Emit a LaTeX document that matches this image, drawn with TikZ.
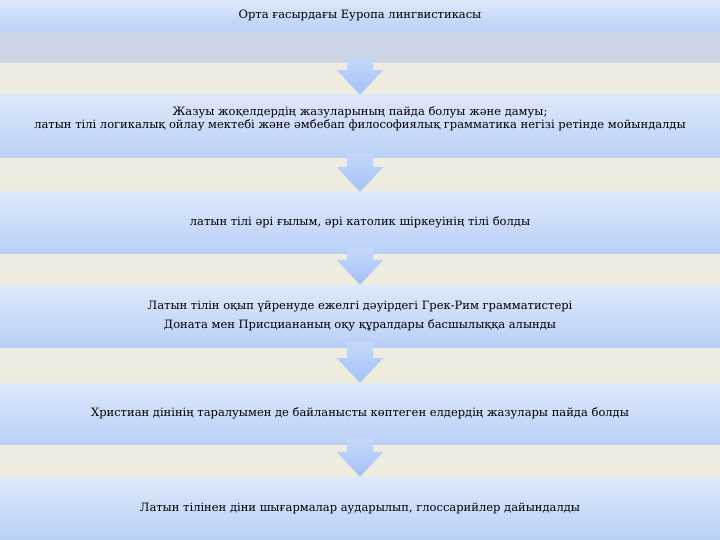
\documentclass[tikz,border=0pt]{standalone}
\usepackage{fontspec}
\setmainfont{DejaVu Serif}
\usetikzlibrary{calc}
\definecolor{paper}{HTML}{EEEBDF}
\definecolor{boxtop}{HTML}{DEE8FB}
\definecolor{boxbottom}{HTML}{B9D0F6}
\definecolor{bandgray}{HTML}{CDD6E7}
\definecolor{arrowtop}{HTML}{C4D8FA}
\definecolor{arrowbottom}{HTML}{A3C2F6}
\tikzset{%
    stagebox/.style={minimum width=720pt, inner sep=0pt, align=center,
      top color=boxtop, bottom color=boxbottom,
      font=\fontsize{11.5}{13}\selectfont},
    stagearrow/.style={top color=arrowtop, bottom color=arrowbottom}
}
\newcommand\StageBox[4]{%
    \node[stagebox, minimum height=#3] (#1) at (360pt,#2) {#4}
}
\newcommand\StageArrow[2]{%
    \shade[stagearrow] ($(#1.south)+(-13pt,5pt)$) -- ($(#2.north)+(-13pt,25pt)$)
      -- ($(#2.north)+(-23.5pt,25pt)$) -- (#2.north) -- ($(#2.north)+(23.5pt,25pt)$)
      -- ($(#2.north)+(13pt,25pt)$) -- ($(#1.south)+(13pt,5pt)$) -- cycle
}

\begin{document}
\begin{tikzpicture}
      \fill[paper] (0,0) rectangle (720pt,-540pt);
      \useasboundingbox (0,0) rectangle (720pt,-540pt);

      \StageBox{title}{-16pt}{32pt}{Орта ғасырдағы Еуропа лингвистикасы};
      \node[fill=bandgray, minimum width=720pt, minimum height=31pt, inner sep=0pt] (band) at (360pt,-47.5pt) {};

      \StageBox{writing}{-126.5pt}{63pt}{Жазуы жоқелдердің жазуларының пайда болуы және дамуы;\\
        латын тілі логикалық ойлау мектебі және әмбебап философиялық грамматика негізі ретінде мойындалды\\[4pt] \mbox{}};
      \StageBox{church}{-222.5pt}{61pt}{латын тілі әрі ғылым, әрі католик шіркеуінің тілі болды};
      \StageBox{grammar}{-316pt}{62pt}{Латын тілін оқып үйренуде ежелгі дәуірдегі Грек-Рим грамматистері\\[6pt]
        Доната мен Присциананың оқу құралдары басшылыққа алынды};
      \StageBox{christian}{-413.5pt}{61pt}{Христиан дінінің таралуымен де байланысты көптеген елдердің жазулары пайда болды};
      \StageBox{glossary}{-508.5pt}{63pt}{Латын тілінен діни шығармалар аударылып, глоссарийлер дайындалды};

      \StageArrow{band}{writing};
      \StageArrow{writing}{church};
      \StageArrow{church}{grammar};
      \StageArrow{grammar}{christian};
      \StageArrow{christian}{glossary};
\end{tikzpicture}
\end{document}
